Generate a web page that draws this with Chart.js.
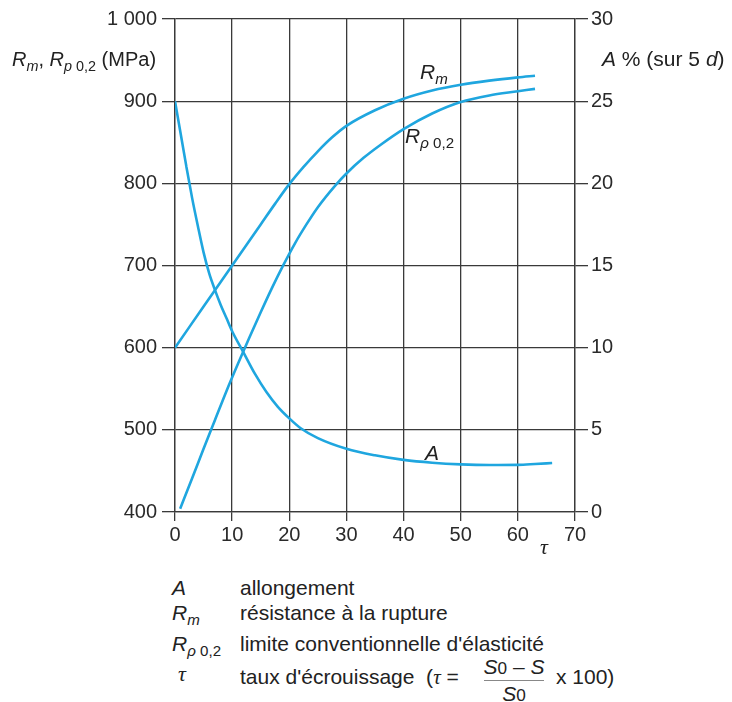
<!DOCTYPE html>
<html><head><meta charset="utf-8">
<script src="https://cdn.jsdelivr.net/npm/chart.js@4"></script>
<style>
body{margin:0;background:#fff;}
#wrap{position:relative;width:732px;height:702px;font-family:"Liberation Sans",Arial,sans-serif;color:#222;overflow:hidden;}
#c{position:absolute;left:0;top:0;}
.t{position:absolute;font-size:21px;white-space:nowrap;line-height:1;}
.i{font-style:italic}
.s{font-size:0.72em;position:relative;top:0.32em}
.tau{font-family:"Liberation Serif","DejaVu Serif",serif;font-style:italic;font-size:22px}
.frac{display:inline-block;text-align:center;margin:0 8px 0 12px;position:relative;top:4px}
.frac .n{display:block;border-bottom:1px solid #555;padding:0 2px 2px}
.frac .d{display:block;padding-top:3px}
.z{font-size:.82em;font-style:normal}
</style></head>
<body>
<div id="wrap">
<canvas id="c" width="732" height="560"></canvas>
<div class="t" style="left:12px;top:49px;font-size:20px"><span class="i">R</span><span class="s i">m</span>, <span class="i">R</span><span class="s"><span class="i">p</span> 0,2</span> (MPa)</div>
<div class="t" style="left:602px;top:48px"><span class="i">A</span> % (sur 5 <span class="i">d</span>)</div>
<div class="t tau" style="left:540px;top:536px">τ</div>
<div class="t" style="left:420px;top:61px"><span class="i">R</span><span class="s i">m</span></div>
<div class="t" style="left:405px;top:125px"><span class="i">R</span><span class="s"><span class="i">ρ</span> 0,2</span></div>
<div class="t" style="left:425px;top:442px"><span class="i">A</span></div>

<div class="t" style="left:172px;top:577px"><span class="i">A</span></div>
<div class="t" style="left:240px;top:577px">allongement</div>
<div class="t" style="left:172px;top:602px"><span class="i">R</span><span class="s i">m</span></div>
<div class="t" style="left:240px;top:602px">résistance à la rupture</div>
<div class="t" style="left:172px;top:633px"><span class="i">R</span><span class="s"><span class="i">ρ</span> 0,2</span></div>
<div class="t" style="left:240px;top:633px">limite conventionnelle d'élasticité</div>
<div class="t tau" style="left:178px;top:663px">τ</div>
<div class="t" style="left:240px;top:666px">taux d'écrouissage&nbsp;&nbsp;(<span class="tau" style="font-size:21px">τ</span> =</div>
<div class="t" style="left:480px;top:656px;text-align:center;width:68px"><span class="i">S</span><span class="z">0</span> – <span class="i">S</span></div>
<div style="position:absolute;left:484px;top:680px;width:60px;height:1px;background:#888"></div>
<div class="t" style="left:480px;top:683px;text-align:center;width:68px"><span class="i">S</span><span class="z">0</span></div>
<div class="t" style="left:556px;top:666px">x 100)</div>
</div>
<script>
const tauRm = [0,5,10,15,17.5,20,22.5,25,27.5,30,35,40,45,50,55,60,63];
const rm    = [600,650,700,750,775,799,820,839,856,870,889,903,913,920,925,929,931];
const tauRp = [0.9,3,5,7,9,11,13,15,17,19,21,23,25,28,30,33,36,40,45,50,55,60,63];
const rp    = [404,441,477,512,547,580,612,643,673,701,727,750,771,797,812,831,847,866,885,899,907,912,915];
const tauA  = [0,1,2,3,4,5,6,7,8,9,10,12,14,16,18,20,22,25,30,35,40,45,50,55,60,63,66];
const aPct  = [25,23,21,19.1,17.4,15.8,14.5,13.5,12.6,11.8,11.0,9.7,8.4,7.3,6.4,5.7,5.1,4.5,3.85,3.45,3.17,3.0,2.9,2.86,2.87,2.92,2.98];
const xTicks = [0,10,20,30,40,50,60,70];
const yTicks = [400,500,600,700,800,900,1000];
const y2Ticks = [0,5,10,15,20,25,30];

const pts = (xs, ys) => xs.map((x, i) => ({x, y: ys[i]}));
const blue = '#1fa6df';
const gc = '#3a3a3a';
const font = {family: '"Liberation Sans", Arial, sans-serif', size: 20};
const line = (data, axis) => ({data, yAxisID: axis, borderColor: blue, borderWidth: 2.6,
  pointRadius: 0, fill: false, cubicInterpolationMode: 'monotone'});

new Chart(document.getElementById('c'), {
  type: 'line',
  data: {datasets: [line(pts(tauRm, rm), 'y'), line(pts(tauRp, rp), 'y'), line(pts(tauA, aPct), 'y2')]},
  options: {
    responsive: false, animation: false, devicePixelRatio: 1,
    layout: {padding: {top: 19, left: 0, right: 0, bottom: 0}},
    plugins: {legend: {display: false}, tooltip: {enabled: false}},
    scales: {
      x: {type: 'linear', min: 0, max: 70,
        afterBuildTicks: s => { s.ticks = xTicks.map(v => ({value: v})); },
        ticks: {font, color: '#2a2a2a', padding: 2, maxRotation: 0},
        grid: {color: gc, lineWidth: 1.3, tickLength: 9},
        border: {color: gc, width: 1.3},
        afterFit: s => { s.height = 48; }},
      y: {position: 'left', min: 400, max: 1000,
        afterBuildTicks: s => { s.ticks = yTicks.map(v => ({value: v})); },
        ticks: {font, color: '#2a2a2a', padding: 5, callback: v => v === 1000 ? '1 000' : String(v)},
        grid: {color: gc, lineWidth: 1.3, tickLength: 13},
        border: {color: gc, width: 1.3},
        afterFit: s => { s.width = 175; }},
      y2: {position: 'right', min: 0, max: 30,
        afterBuildTicks: s => { s.ticks = y2Ticks.map(v => ({value: v})); },
        ticks: {font, color: '#2a2a2a', padding: 3},
        grid: {drawOnChartArea: false, color: gc, lineWidth: 1.3, tickLength: 13},
        border: {color: gc, width: 1.3},
        afterFit: s => { s.width = 157; }}
    }
  }
});
</script>
</body></html>
